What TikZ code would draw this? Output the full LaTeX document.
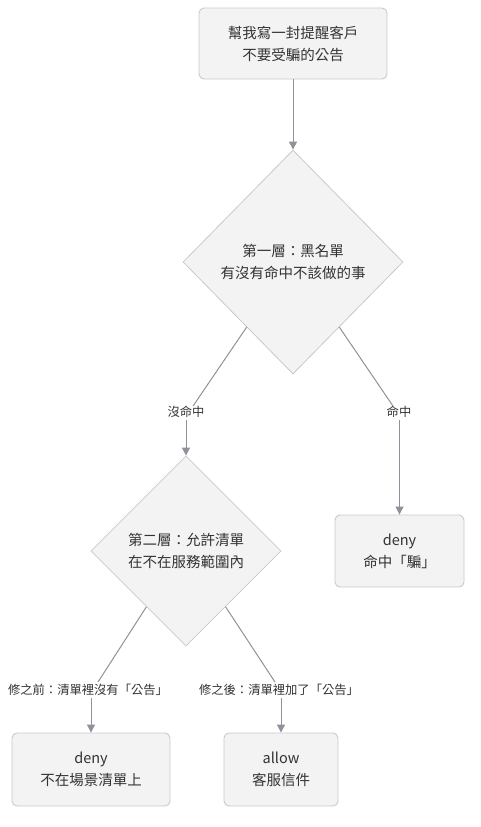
\documentclass[tikz,border=0pt]{standalone}
\usepackage{fontspec}
\setmainfont{Noto Sans CJK TC}
\usetikzlibrary{shapes.geometric,arrows.meta,calc}
\definecolor{boxfill}{HTML}{F3F3F3}
\definecolor{boxdraw}{HTML}{C8C9CC}
\definecolor{edgecol}{HTML}{8E929A}
\definecolor{txt}{HTML}{333333}
\tikzset{
  procbox/.style={draw=boxdraw, line width=0.9pt, fill=boxfill, rounded corners=5pt, align=center, inner sep=0pt, text=txt, font=\fontsize{14.5}{22}\selectfont},
  decbox/.style={diamond, draw=boxdraw, line width=0.8pt, fill=boxfill, align=center, inner sep=0pt, aspect=1, text=txt, font=\fontsize{14.5}{22}\selectfont},
  elabel/.style={text=txt, inner sep=2pt, font=\fontsize{12.3}{14}\selectfont},
  edge/.style={draw=edgecol, line width=1pt},
  arr/.style={edge, -{Triangle[length=8pt,width=8pt]}}
}
\begin{document}
\begin{tikzpicture}[x=1pt,y=-1pt]
\useasboundingbox (0,0) rectangle (480,827);
\node[procbox, minimum width=188pt, minimum height=71pt] (start) at (293,43.5) {幫我寫一封提醒客戶\\不要受騙的公告};
\node[decbox, minimum width=220pt, minimum height=224pt] (d1) at (293,262) {第一層：黑名單\\有沒有命中不該做的事};
\node[elabel] (l1) at (186,412) {沒命中};
\node[elabel] (l2) at (399,412) {命中};
\node[decbox, minimum width=190pt, minimum height=190pt] (d2) at (186,551) {第二層：允許清單\\在不在服務範圍內};
\node[procbox, minimum width=129pt, minimum height=72pt] (deny1) at (399.5,551) {deny\\命中「騙」};
\node[elabel] (l3) at (88,690) {修之前：清單裡沒有「公告」};
\node[elabel] (l4) at (279,690) {修之後：清單裡加了「公告」};
\node[procbox, minimum width=158pt, minimum height=73pt] (deny2) at (91,769.5) {deny\\不在場景清單上};
\node[procbox, minimum width=114pt, minimum height=73pt] (allow) at (281,769.5) {allow\\客服信件};

\draw[arr] (start) -- (d1.north);

\coordinate (d1l) at ($(d1.west)!0.58!(d1.south)$);
\coordinate (d1r) at ($(d1.east)!0.58!(d1.south)$);
\draw[edge] (d1l) -- ($(l1.north)+(7,2)$);
\draw[edge] (d1r) -- ($(l2.north)+(-6,2)$);
\draw[arr] (l1.south) -- (d2.north);
\draw[arr] (l2.south -| deny1.north) -- (deny1.north);

\coordinate (d2l) at ($(d2.west)!0.585!(d2.south)$);
\coordinate (d2r) at ($(d2.east)!0.585!(d2.south)$);
\draw[edge] (d2l) -- ($(l3.north)+(10,0)$);
\draw[edge] (d2r) -- ($(l4.north)+(-4,0)$);
\draw[arr] (l3.south -| deny2.north) -- (deny2.north);
\draw[arr] (l4.south -| allow.north) -- (allow.north);
\end{tikzpicture}
\end{document}
